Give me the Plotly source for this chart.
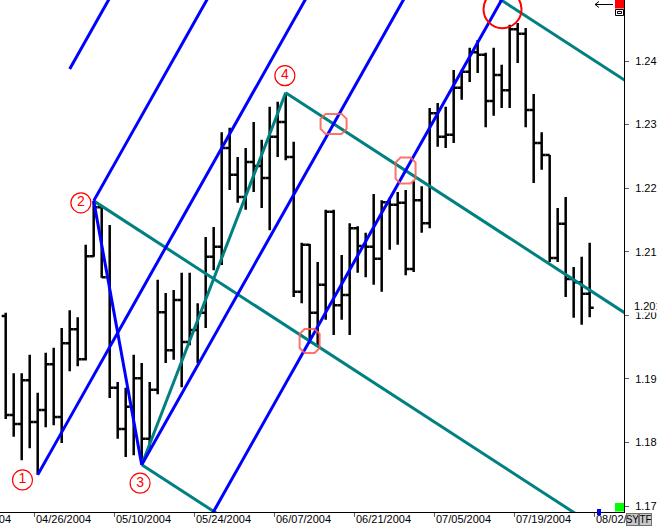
import numpy as np
import plotly.graph_objects as go

# ---------------- data ----------------
dates = [
    '2004-04-20', '2004-04-21', '2004-04-22', '2004-04-23',
    '2004-04-26', '2004-04-27', '2004-04-28', '2004-04-29', '2004-04-30',
    '2004-05-03', '2004-05-04', '2004-05-05', '2004-05-06', '2004-05-07',
    '2004-05-10', '2004-05-11', '2004-05-12', '2004-05-13', '2004-05-14',
    '2004-05-17', '2004-05-18', '2004-05-19', '2004-05-20', '2004-05-21',
    '2004-05-24', '2004-05-25', '2004-05-26', '2004-05-27', '2004-05-28',
    '2004-05-31', '2004-06-01', '2004-06-02', '2004-06-03', '2004-06-04',
    '2004-06-07', '2004-06-08', '2004-06-09', '2004-06-10', '2004-06-11',
    '2004-06-14', '2004-06-15', '2004-06-16', '2004-06-17', '2004-06-18',
    '2004-06-21', '2004-06-22', '2004-06-23', '2004-06-24', '2004-06-25',
    '2004-06-28', '2004-06-29', '2004-06-30', '2004-07-01', '2004-07-02',
    '2004-07-05', '2004-07-06', '2004-07-07', '2004-07-08', '2004-07-09',
    '2004-07-12', '2004-07-13', '2004-07-14', '2004-07-15', '2004-07-16',
    '2004-07-19', '2004-07-20', '2004-07-21', '2004-07-22', '2004-07-23',
    '2004-07-26', '2004-07-27', '2004-07-28', '2004-07-29', '2004-07-30',
]

opens = [1.1999, 1.1843, 1.1829, 1.1898, 1.1832, 1.1851, 1.1923, 1.1840, 1.1956, 1.1978,
         1.1931, 1.2093, 1.2170, 1.2060, 1.1886, 1.1821, 1.1856, 1.1901, 1.1806, 1.1883,
         1.2005, 1.1945, 1.2024, 1.1958, 1.1977, 1.2004, 1.2092, 1.2108, 1.2263, 1.2221,
         1.2186, 1.2241, 1.2235, 1.2216, 1.2281, 1.2304, 1.2249, 1.2037, 1.2111, 1.2004,
         1.2048, 1.2163, 1.2016, 1.2032, 1.2137, 1.2109, 1.2108, 1.2089, 1.2178, 1.2174,
         1.2177, 1.2073, 1.2181, 1.2145, 1.2318, 1.2281, 1.2284, 1.2358, 1.2383, 1.2414,
         1.2410, 1.2337, 1.2378, 1.2354, 1.2450, 1.2443, 1.2323, 1.2271, 1.2252, 1.2090,
         1.2144, 1.2057, 1.2052, 1.2034]
highs = [1.2004, 1.1909, 1.1909, 1.1938, 1.1878, 1.1941, 1.1949, 1.1980, 1.2008, 1.1997,
         1.2111, 1.2180, 1.2172, 1.2142, 1.1895, 1.1886, 1.1938, 1.1925, 1.1895, 1.2056,
         1.2035, 1.2040, 1.2067, 1.2067, 1.2019, 1.2123, 1.2139, 1.2288, 1.2295, 1.2249,
         1.2263, 1.2304, 1.2276, 1.2328, 1.2336, 1.2350, 1.2273, 1.2114, 1.2112, 1.2084,
         1.2166, 1.2166, 1.2095, 1.2145, 1.2140, 1.2130, 1.2191, 1.2181, 1.2185, 1.2194,
         1.2197, 1.2211, 1.2203, 1.2326, 1.2334, 1.2328, 1.2386, 1.2386, 1.2421, 1.2433,
         1.2413, 1.2421, 1.2394, 1.2457, 1.2460, 1.2452, 1.2348, 1.2288, 1.2252, 1.2169,
         1.2186, 1.2076, 1.2092, 1.2114]
lows = [1.1837, 1.1809, 1.1772, 1.1791, 1.1749, 1.1824, 1.1827, 1.1799, 1.1912, 1.1920,
        1.1929, 1.2092, 1.2059, 1.1870, 1.1806, 1.1777, 1.1780, 1.1765, 1.1785, 1.1876,
        1.1925, 1.1930, 1.1887, 1.1953, 1.1925, 1.1980, 1.2071, 1.2079, 1.2197, 1.2177,
        1.2166, 1.2194, 1.2169, 1.2134, 1.2249, 1.2244, 1.2029, 1.2019, 1.1956, 1.1950,
        1.1993, 1.1969, 1.1993, 1.1969, 1.2067, 1.2060, 1.2048, 1.2037, 1.2103, 1.2111,
        1.2063, 1.2068, 1.2130, 1.2137, 1.2265, 1.2263, 1.2271, 1.2339, 1.2367, 1.2381,
        1.2296, 1.2314, 1.2326, 1.2326, 1.2397, 1.2296, 1.2208, 1.2229, 1.2084, 1.2084,
        1.2029, 1.1996, 1.1985, 1.1997]
closes = [1.1843, 1.1829, 1.1898, 1.1832, 1.1851, 1.1923, 1.1840, 1.1956, 1.1978, 1.1931,
          1.2093, 1.2170, 1.2060, 1.1886, 1.1821, 1.1856, 1.1901, 1.1806, 1.1883, 1.2005,
          1.1945, 1.2024, 1.1958, 1.1977, 1.2004, 1.2092, 1.2108, 1.2263, 1.2221, 1.2186,
          1.2241, 1.2235, 1.2216, 1.2281, 1.2304, 1.2249, 1.2037, 1.2111, 1.2004, 1.2048,
          1.2163, 1.2016, 1.2032, 1.2137, 1.2109, 1.2108, 1.2089, 1.2178, 1.2174, 1.2177,
          1.2073, 1.2181, 1.2145, 1.2318, 1.2281, 1.2284, 1.2358, 1.2383, 1.2414, 1.2410,
          1.2337, 1.2378, 1.2354, 1.2450, 1.2443, 1.2323, 1.2271, 1.2252, 1.2090, 1.2144,
          1.2057, 1.2052, 1.2034, 1.2012]

# pivots 1..4 (bar index, price)
pivot_idx = [4, 11, 17, 35]
pivot_price = [1.1749, 1.2180, 1.1765, 1.2350]

# numbered pivot labels
label_text = ['1', '2', '3', '4']
label_idx = [2.1, 9.4, 16.8, 34.9]
label_price = [1.1741, 1.2177, 1.1736, 1.2377]

tick_dates = ['2004-04-12', '2004-04-26', '2004-05-10', '2004-05-24', '2004-06-07',
              '2004-06-21', '2004-07-05', '2004-07-19', '2004-08-02']
tick_text = ['04/12/2004', '04/26/2004', '05/10/2004', '05/24/2004', '06/07/2004',
             '06/21/2004', '07/05/2004', '07/19/2004', '08/02/2004']
y_ticks = [1.17, 1.18, 1.19, 1.20, 1.21, 1.22, 1.23, 1.24]
y_tick_text = ['1.17', '1.18', '1.19', '1.20', '1.21', '1.22', '1.23', '1.24']
last_price_text = '1.201'

# ---------------- layout constants ----------------
W, H = 657, 526
PL, PR, PT, PB = 0, 33, 0, 14
PW, PH = W - PL - PR, H - PT - PB
X_MIN, X_MAX = -0.7125, 77.29
Y_MIN, Y_MAX = 1.16906, 1.24960
K_END = 90
FONT = 'Liberation Sans, Arial, sans-serif'
BLUE = '#0000ff'
TEAL = '#008080'

x = np.arange(len(dates))


def px2paper(px, py):
    return px / PW, 1 - py / PH


def pitchfork(a, b, c):
    (ka, pa), (kb, pb), (kc, pc) = a, b, c
    km, pm = (kb + kc) / 2, (pb + pc) / 2
    s = (pm - pa) / (km - ka)
    starts = {
        'median': (ka, pa),
        'tine_b': (kb, pb),
        'tine_c': (kc, pc),
        'warn_b': (2 * kb - km, 2 * pb - pm),
        'warn_c': (2 * kc - km, 2 * pc - pm),
    }
    return s, starts


def line_xy(start, s):
    k0, p0 = start
    return [k0, K_END], [p0, p0 + s * (K_END - k0)]


def intersect(st1, s1, st2, s2):
    (k1, p1), (k2, p2) = st1, st2
    k = (p2 - p1 + s1 * k1 - s2 * k2) / (s1 - s2)
    return k, p1 + s1 * (k - k1)


P = list(zip(pivot_idx, pivot_price))
sb, blue = pitchfork(P[0], P[1], P[2])
st, teal = pitchfork(P[1], P[2], P[3])

fig = go.Figure()

fig.add_trace(go.Ohlc(
    x=x, open=opens, high=highs, low=lows, close=closes,
    increasing=dict(line=dict(color='black', width=2.5)),
    decreasing=dict(line=dict(color='black', width=2.5)),
    tickwidth=0.5, showlegend=False, hoverinfo='skip'))


def add_lines(fork, s, seg, color):
    xs, ys = [seg[0][0], seg[1][0], None], [seg[0][1], seg[1][1], None]
    for name, start in fork.items():
        lx, ly = line_xy(start, s)
        xs += lx + [None]
        ys += ly + [None]
    fig.add_trace(go.Scatter(x=xs, y=ys, mode='lines', line=dict(color=color, width=3),
                             showlegend=False, hoverinfo='skip'))


add_lines(teal, st, (P[2], P[3]), TEAL)
add_lines(blue, sb, (P[1], P[2]), BLUE)

fig.add_trace(go.Scatter(
    x=label_idx, y=label_price, mode='markers+text', text=label_text,
    textposition='middle center',
    textfont=dict(color='#ff0000', size=14, family=FONT),
    marker=dict(size=20, color='white', line=dict(color='#ff0000', width=1.2)),
    showlegend=False, hoverinfo='skip', cliponaxis=False))

shapes = []

# highlight boxes on the fork intersections
boxes = [
    (intersect(blue['tine_c'], sb, teal['tine_c'], st), 26, 20),
    (intersect(blue['warn_c'], sb, teal['tine_c'], st), 20, 26),
    (intersect(blue['warn_c'], sb, teal['median'], st), 20, 24),
]
for (bk, bp), w, h in boxes:
    c = 5
    pts = [(-w / 2 + c, -h / 2), (w / 2 - c, -h / 2), (w / 2, -h / 2 + c), (w / 2, h / 2 - c),
           (w / 2 - c, h / 2), (-w / 2 + c, h / 2), (-w / 2, h / 2 - c), (-w / 2, -h / 2 + c)]
    path = 'M ' + ' L '.join(f'{a:.1f},{b:.1f}' for a, b in pts) + ' Z'
    shapes.append(dict(type='path', xref='x', yref='y', xsizemode='pixel', ysizemode='pixel',
                       xanchor=bk, yanchor=bp, path=path,
                       line=dict(color='rgba(255,90,80,0.85)', width=2)))

# big circle where both outer warning lines meet
ck, cp = intersect(blue['warn_c'], sb, teal['warn_c'], st)
shapes.append(dict(type='circle', xref='x', yref='y', xsizemode='pixel', ysizemode='pixel',
                   xanchor=ck, yanchor=cp, x0=-18, x1=20, y0=-28, y1=10,
                   line=dict(color='#ff0000', width=2)))


def rect_px(x0, y0, x1, y1, fill, line_color=None, lw=0):
    ax0, ay1 = px2paper(x0, y0)
    ax1, ay0 = px2paper(x1, y1)
    d = dict(type='rect', xref='paper', yref='paper', x0=ax0, x1=ax1, y0=ay0, y1=ay1,
             fillcolor=fill, layer='above')
    d['line'] = dict(color=line_color, width=lw) if line_color else dict(width=0)
    return d


shapes.append(rect_px(615, 0, 624, 8.5, '#ff0000'))
shapes.append(rect_px(615.5, 9.5, 623.5, 15.5, 'white', 'black', 1))
shapes.append(rect_px(617.5, 11.5, 621.5, 13.5, 'white', 'black', 1))
shapes.append(rect_px(615, 503, 624, 511.5, '#00ff00'))
shapes.append(rect_px(597, 509, 601, 515, '#0000ff'))

# small arrow at the top right
ap = [px2paper(613, 4.5), px2paper(595, 4.5), px2paper(599, 1.5), px2paper(595, 4.5), px2paper(599, 7.5)]
apath = f'M {ap[0][0]},{ap[0][1]} L {ap[1][0]},{ap[1][1]} M {ap[2][0]},{ap[2][1]} L {ap[3][0]},{ap[3][1]} L {ap[4][0]},{ap[4][1]}'
shapes.append(dict(type='path', xref='paper', yref='paper', path=apath,
                   line=dict(color='black', width=1), layer='above'))

annotations = []
first = np.datetime64(dates[0])
tick_k = [float(np.busday_count(first, np.datetime64(d))) - 0.375 for d in tick_dates]
for k, t in zip(tick_k, tick_text):
    annotations.append(dict(xref='paper', yref='paper', x=(k - X_MIN) / (X_MAX - X_MIN), y=0,
                            xanchor='left', yanchor='top', text=t, showarrow=False,
                            font=dict(family=FONT, size=11, color='black'), borderpad=0))

annotations.append(dict(xref='paper', yref='y', x=1, y=closes[-1], xanchor='left', yanchor='middle',
                        xshift=9, yshift=2, text=last_price_text, showarrow=False, bgcolor='white',
                        borderpad=0, font=dict(family=FONT, size=11, color='black')))

for i, t in enumerate(['SY', 'TF']):
    bx0 = 626 + i * 13
    axp, ayp = px2paper(bx0, 526)
    annotations.append(dict(xref='paper', yref='paper', x=axp, y=ayp, xanchor='left', yanchor='bottom',
                            text=t, showarrow=False, bgcolor='#c8c8c8', bordercolor='#707070',
                            borderwidth=1, borderpad=0, width=11, height=11,
                            font=dict(family=FONT, size=10, color='black')))

fig.update_layout(
    width=W, height=H,
    margin=dict(l=PL, r=PR, t=PT, b=PB, pad=0),
    paper_bgcolor='white', plot_bgcolor='white',
    showlegend=False,
    shapes=shapes, annotations=annotations,
    xaxis=dict(range=[X_MIN, X_MAX], showgrid=False, zeroline=False,
               showline=True, linecolor='black', linewidth=1, mirror=True,
               tickmode='array', tickvals=[k for k in tick_k if X_MIN < k < X_MAX],
               ticks='outside', ticklen=4, tickcolor='#606060', showticklabels=False,
               rangeslider=dict(visible=False), fixedrange=True),
    yaxis=dict(range=[Y_MIN, Y_MAX], side='right', showgrid=False, zeroline=False,
               showline=True, linecolor='black', linewidth=1,
               tickmode='array', tickvals=y_ticks, ticktext=y_tick_text,
               ticks='outside', ticklen=4, tickcolor='#606060', ticklabelstandoff=4,
               tickfont=dict(family=FONT, size=11, color='black'), fixedrange=True),
)

fig.write_html('out.html', config={'displayModeBar': False},
               post_script="document.body.style.margin='0';document.body.style.overflow='hidden';")
